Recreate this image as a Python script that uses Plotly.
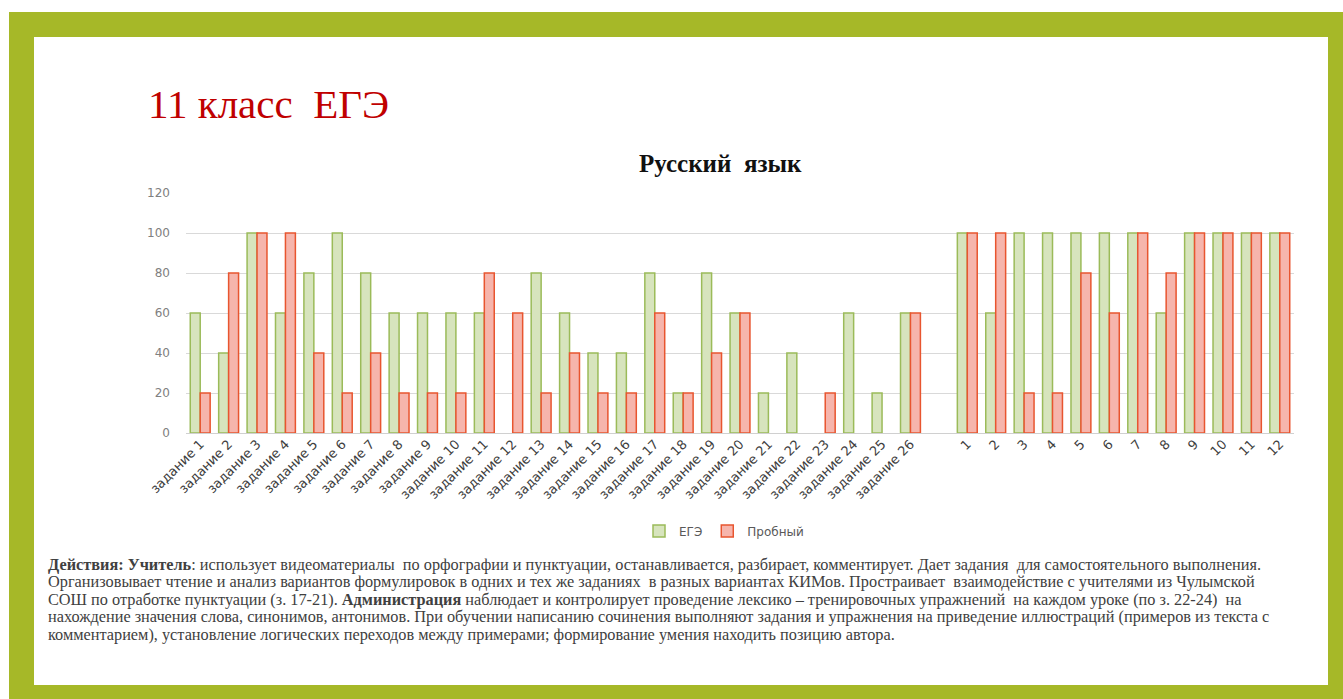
import plotly.graph_objects as go

# ---------------- data ----------------
categories = [f"задание {i}" for i in range(1, 27)] + [" "] + [str(i) for i in range(1, 13)]

ege = [60, 40, 100, 60, 80, 100, 80, 60, 60, 60, 60, None, 80, 60, 40, 40, 80, 20, 80, 60, 20, 40, None, 60, 20, 60,
       None,
       100, 60, 100, 100, 100, 100, 100, 60, 100, 100, 100, 100]
probny = [20, 80, 100, 100, 40, 20, 40, 20, 20, 20, 80, 60, 20, 40, 20, 20, 60, 20, 40, 60, None, None, 20, None, None, 60,
          None,
          100, 100, 20, 20, 80, 60, 100, 80, 100, 100, 100, 100]

series_names = ["ЕГЭ", "Пробный"]
y_ticks = [0, 20, 40, 60, 80, 100, 120]

heading = "11 класс  ЕГЭ"
chart_title = "Русский  язык"
paragraph = [
    "<b>Действия: Учитель</b>: использует видеоматериалы  по орфографии и пунктуации, останавливается, разбирает, комментирует. Дает задания  для самостоятельного выполнения.",
    "Организовывает чтение и анализ вариантов формулировок в одних и тех же заданиях  в разных вариантах КИМов. Простраивает  взаимодействие с учителями из Чулымской",
    "СОШ по отработке пунктуации (з. 17-21). <b>Администрация</b> наблюдает и контролирует проведение лексико – тренировочных упражнений  на каждом уроке (по з. 22-24)  на",
    "нахождение значения слова, синонимов, антонимов. При обучении написанию сочинения выполняют задания и упражнения на приведение иллюстраций (примеров из текста с",
    "комментарием), установление логических переходов между примерами; формирование умения находить позицию автора.",
]

# ---------------- layout geometry ----------------
W, H = 1343, 699
L, R, T, B = 186, 49, 193, 266
PW, PH = W - L - R, H - T - B


def px(x):
    return (x - L) / PW


def py(y):
    return (H - B - y) / PH


GREEN = "#a6b828"

fig = go.Figure()
fig.add_trace(go.Bar(
    x=categories, y=ege, name=series_names[0],
    marker=dict(color="#d7e4bd", line=dict(color="#9bbb59", width=1.5)),
))
fig.add_trace(go.Bar(
    x=categories, y=probny, name=series_names[1],
    marker=dict(color="#f6b5ac", line=dict(color="#e8552f", width=1.5)),
))

shapes = [
    dict(type="rect", xref="paper", yref="paper", x0=px(9), x1=px(1343), y0=py(12), y1=py(699),
         fillcolor=GREEN, line=dict(width=0), layer="below"),
    dict(type="rect", xref="paper", yref="paper", x0=px(34), x1=px(1328), y0=py(37), y1=py(685),
         fillcolor="white", line=dict(width=0), layer="below"),
]

annotations = [
    dict(text=heading, xref="paper", yref="paper", x=px(146), y=py(104), xanchor="left", yanchor="middle",
         showarrow=False, font=dict(family="Liberation Serif", size=41, color="#c00000")),
    dict(text=f"<b>{chart_title}</b>", xref="paper", yref="paper", x=px(720), y=py(163), xanchor="center",
         yanchor="middle", showarrow=False, font=dict(family="Liberation Serif", size=25, color="#111111")),
]
for i, line in enumerate(paragraph):
    annotations.append(dict(
        text=line, xref="paper", yref="paper", x=px(46), y=py(564 + i * 17.6), xanchor="left", yanchor="middle",
        showarrow=False, font=dict(family="Liberation Serif", size=16.3, color="#404040"),
    ))

fig.update_layout(
    width=W, height=H,
    margin=dict(l=L, r=R, t=T, b=B),
    paper_bgcolor="white", plot_bgcolor="white",
    barmode="group", bargap=0.3, bargroupgap=0.0,
    shapes=shapes, annotations=annotations,
    showlegend=True,
    legend=dict(orientation="h", x=px(724), y=py(531), xanchor="center", yanchor="middle",
                font=dict(family="DejaVu Sans", size=12, color="#595959"),
                bgcolor="rgba(0,0,0,0)", itemwidth=30),
    xaxis=dict(type="category", categoryorder="array", categoryarray=categories,
               tickangle=-45, tickfont=dict(family="DejaVu Sans", size=13, color="#404040"),
               showgrid=False, showline=False, ticks=""),
    yaxis=dict(range=[0, 120], tickvals=y_ticks, showgrid=True, gridcolor="#d9d9d9", gridwidth=1,
               zeroline=True, zerolinecolor="#d0d0d0", zerolinewidth=1,
               tickfont=dict(family="DejaVu Sans", size=12, color="#808080"),
               ticklabelstandoff=15, showline=False),
)

fig.write_html("out.html", config={"displayModeBar": False},
               post_script="document.body.style.margin='0px';")
